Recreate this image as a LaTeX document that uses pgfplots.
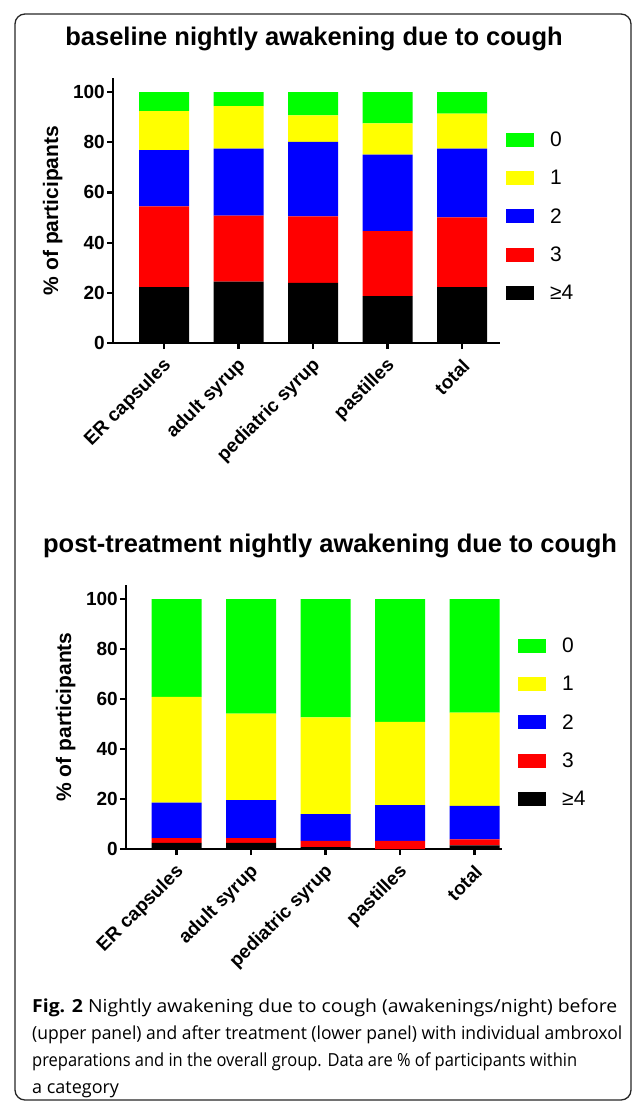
\documentclass[border=0pt]{standalone}
\usepackage{fontspec}
\setmainfont{Liberation Sans}
\newfontfamily\capfont{Open Sans}
\usepackage{graphicx}
\usepackage{pgfplots}
\usepackage{pgfplotstable}
\pgfplotsset{compat=1.18}

\definecolor{cgreen}{HTML}{00FF00}
\definecolor{cyellow}{HTML}{FFFF00}
\definecolor{cblue}{HTML}{0000FF}
\definecolor{cred}{HTML}{FF0000}

\newlength\natw
\newcommand\fitline[2]{\settowidth\natw{#2}\pgfmathsetmacro\sx{#1/\natw}\scalebox{\sx}[1]{#2}}

% columns: x, >=4, 3, 2, 1, 0  (% of participants)
\pgfplotstableread{
x  g4   t3   t2   t1   t0
0  22.3 32.1 22.5 15.5 7.6
1  24.5 26.3 26.7 16.9 5.6
2  24.0 26.5 29.6 10.6 9.3
3  18.7 25.9 30.5 12.4 12.5
4  22.3 27.8 27.4 13.9 8.6
}\basetab

\pgfplotstableread{
x  g4   t3   t2   t1   t0
0  2.5  1.9  14.2 42.3 39.1
1  2.5  1.9  15.2 34.6 45.8
2  0.8  2.5  10.7 38.7 47.3
3  0.0  3.3  14.3 33.3 49.1
4  1.5  2.4  13.4 37.3 45.4
}\posttab

\pgfplotsset{
  gp/.style={
    scale only axis,
    ybar stacked,
    bar width=50pt,
    axis x line*=bottom,
    axis y line*=left,
    axis line style={-, line width=2.2pt, black},
    every tick/.style={line width=2.2pt, black},
    major tick length=6pt,
    tick align=outside,
    ymin=0, ymax=105.6,
    ytick={0,20,40,60,80,100},
    xtick={0,1,2,3,4},
    xticklabels={ER capsules, adult syrup, pediatric syrup, pastilles, total},
    /pgf/number format/assume math mode=true,
    yticklabel style={font=\bfseries\fontsize{19}{19}\selectfont, inner sep=2pt},
    xticklabel style={font=\bfseries\fontsize{19}{19}\selectfont, rotate=45, anchor=east, inner sep=1pt,
      xshift=-5.7pt, yshift=-12.7pt},
    ylabel={\% of participants},
    ylabel style={font=\bfseries\fontsize{21}{21}\selectfont},
    ylabel shift=5pt,
    enlargelimits=false,
    clip=false,
    reverse legend,
    legend cell align=left,
    legend image code/.code={\path[##1] (0pt,-7pt) rectangle (28pt,7pt);},
    legend style={draw=none, fill=none, inner sep=0pt, row sep=22pt, column sep=16pt,
      font=\fontsize{21}{21}\selectfont, nodes={inner sep=0pt}},
  },
}

\begin{document}
\begin{tikzpicture}[x=1pt,y=1pt]
\useasboundingbox (0,0) rectangle (633,-1103);
\draw[line width=1.3pt, rounded corners=10pt, black!85] (15,-14) rectangle (631,-1100);

\node[font=\bfseries\fontsize{25.5}{25.5}\selectfont] at (314,-39) {baseline nightly awakening due to cough};
\node[font=\bfseries\fontsize{25.5}{25.5}\selectfont] at (330,-546) {post-treatment nightly awakening due to cough};

\begin{axis}[gp, at={(113pt,-343pt)}, anchor=south west, width=387pt, height=265pt,
  xmin=-0.685, xmax=4.51,
  legend style={at={(rel axis cs:1.0155,0.796)}, anchor=north west}]
\addplot[fill=black, draw=none] table[x=x, y=g4] {\basetab};
\addplot[fill=cred, draw=none] table[x=x, y=t3] {\basetab};
\addplot[fill=cblue, draw=none] table[x=x, y=t2] {\basetab};
\addplot[fill=cyellow, draw=none] table[x=x, y=t1] {\basetab};
\addplot[fill=cgreen, draw=none] table[x=x, y=t0] {\basetab};
\legend{≥4,3,2,1,0}
\end{axis}

\begin{axis}[gp, at={(126pt,-849pt)}, anchor=south west, width=376pt, height=264pt,
  xmin=-0.678, xmax=4.369,
  legend style={at={(rel axis cs:1.0426,0.799)}, anchor=north west}]
\addplot[fill=black, draw=none] table[x=x, y=g4] {\posttab};
\addplot[fill=cred, draw=none] table[x=x, y=t3] {\posttab};
\addplot[fill=cblue, draw=none] table[x=x, y=t2] {\posttab};
\addplot[fill=cyellow, draw=none] table[x=x, y=t1] {\posttab};
\addplot[fill=cgreen, draw=none] table[x=x, y=t0] {\posttab};
\legend{≥4,3,2,1,0}
\end{axis}

\node[anchor=north west, inner sep=0pt, align=left, font=\capfont\fontsize{18}{27}\selectfont] at (32,-999)
{\fitline{585}{{\bfseries Fig. 2} Nightly awakening due to cough (awakenings/night) before}\\
\fitline{590}{(upper panel) and after treatment (lower panel) with individual ambroxol}\\
\fitline{545}{preparations and in the overall group. Data are \% of participants within}\\
a category};
\end{tikzpicture}
\end{document}
